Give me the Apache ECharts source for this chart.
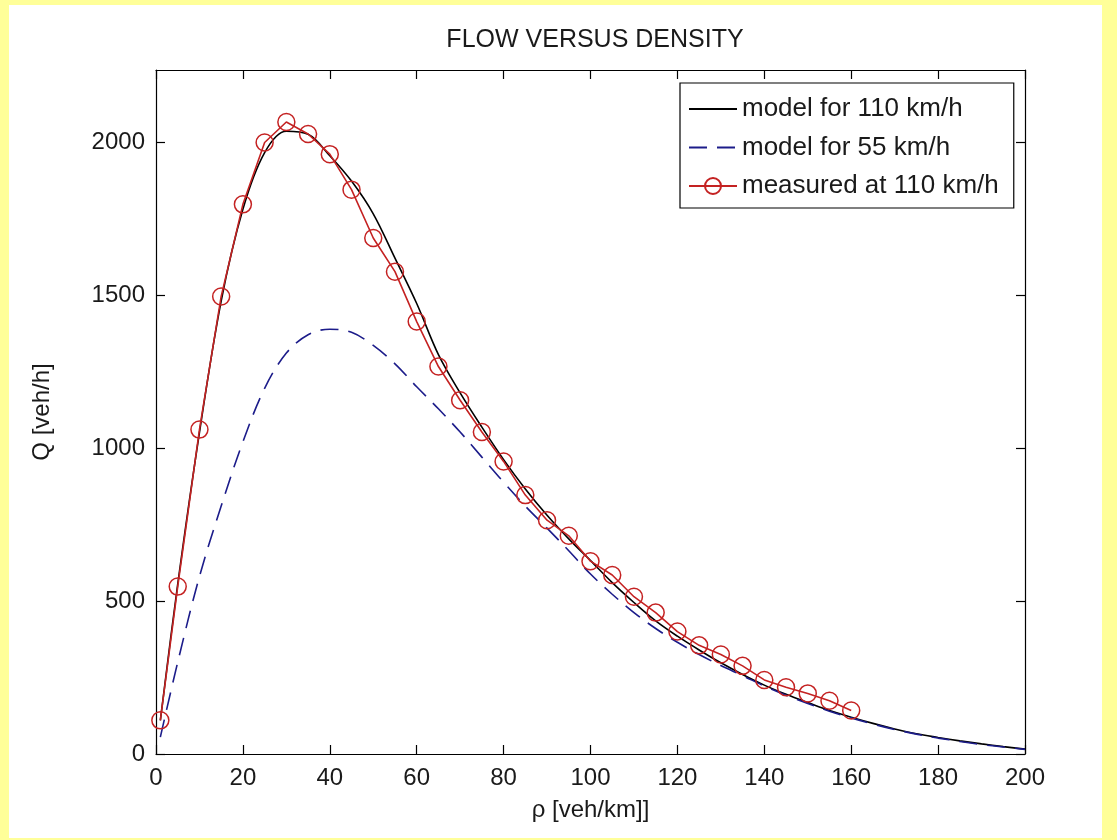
<!DOCTYPE html>
<html>
<head>
<meta charset="utf-8">
<script src="https://cdn.jsdelivr.net/npm/echarts@6/dist/echarts.min.js"></script>
<style>
html,body{margin:0;padding:0;background:#ffff99;}
#frame{position:absolute;left:9px;top:5px;width:1093px;height:833px;background:#fff;}
#chart{position:absolute;left:0;top:0;width:1117px;height:840px;}
</style>
</head>
<body>
<div id="frame"></div>
<div id="chart"></div>
<script>
// ---- data ----
const seriesNames = ['model for 110 km/h', 'model for 55 km/h', 'measured at 110 km/h'];
const rhoModel = [1,5,10,15,20,25,30,35,40,45,50,55,60,65,70,75,80,85,90,95,100,105,110,115,120,125,130,135,140,145,150,155,160,165,170,175,180,185,190,195,200];
const q110 = [110,555,1050,1480,1780,1965,2035,2025,1955,1872,1765,1620,1472,1305,1180,1068,962,866,780,703,632,560,495,435,385,340,298,260,225,195,168,142,120,100,82,66,54,43,33,24,16];
const q55 = [55,300,580,810,1020,1195,1310,1370,1388,1378,1335,1275,1200,1128,1052,970,888,810,738,664,588,522,462,410,365,325,289,256,222,192,165,140,118,98,80,65,52,41,31,23,15];
const rhoMeasured = [1,5,10,15,20,25,30,35,40,45,50,55,60,65,70,75,80,85,90,95,100,105,110,115,120,125,130,135,140,145,150,155,160];
const qMeasured = [110,547,1060,1495,1796,1998,2065,2026,1960,1844,1686,1576,1413,1266,1156,1052,956,846,764,713,630,585,514,462,400,355,325,288,242,218,198,174,142];
const xTickValues = [0,20,40,60,80,100,120,140,160,180,200];
const yTickValues = [0,500,1000,1500,2000];
const xRange = [0, 200];
const yRange = [0, 2235];

const pairs = (xs, ys) => xs.map((x, i) => [x, ys[i]]);

const chart = echarts.init(document.getElementById('chart'), null, {renderer: 'canvas'});
const FONT = 'Liberation Sans';
const TXT = '#1a1a1a';
const RED = '#c42222';

function axis(extra, ticks, range) {
  return Object.assign({
    type: 'value', min: range[0], max: range[1],
    axisLine: {show: true, onZero: false, lineStyle: {color: '#000', width: 1.2}},
    axisTick: {show: true, inside: true, length: 9, customValues: ticks, lineStyle: {color: '#000', width: 1.2}},
    splitLine: {show: false}
  }, extra);
}

chart.setOption({
  backgroundColor: 'transparent',
  animation: false,
  title: {
    text: 'FLOW VERSUS DENSITY',
    left: 590, top: 23, textAlign: 'center',
    textStyle: {fontFamily: FONT, fontSize: 25, fontWeight: 'normal', color: TXT}
  },
  grid: {left: 156, right: 92, top: 70, bottom: 86, containLabel: false},
  legend: {
    data: [
      {name: seriesNames[0], itemStyle: {opacity: 0}},
      {name: seriesNames[1], itemStyle: {opacity: 0}},
      {name: seriesNames[2]}
    ],
    orient: 'vertical',
    left: 680, top: 83,
    padding: [13, 15, 9, 8],
    itemWidth: 48, itemHeight: 20, itemGap: 12.5,
    backgroundColor: '#fff',
    borderColor: '#000', borderWidth: 1.2,
    textStyle: {fontFamily: FONT, fontSize: 26, color: TXT, lineHeight: 22}
  },
  xAxis: [
    axis({
      position: 'bottom',
      name: 'ρ [veh/km]]', nameLocation: 'middle', nameGap: 44,
      nameTextStyle: {fontFamily: FONT, fontSize: 24, color: TXT},
      axisLabel: {fontFamily: FONT, fontSize: 24, color: TXT, margin: 12, customValues: xTickValues, formatter: v => String(v)}
    }, xTickValues, xRange),
    axis({position: 'top', axisLabel: {show: false}}, xTickValues, xRange)
  ],
  yAxis: [
    axis({
      position: 'left',
      name: 'Q [veh/h]', nameLocation: 'middle', nameGap: 102, nameRotate: 90,
      nameTextStyle: {fontFamily: FONT, fontSize: 24, color: TXT},
      axisLabel: {fontFamily: FONT, fontSize: 24, color: TXT, margin: 11, customValues: yTickValues, formatter: v => String(v)}
    }, yTickValues, yRange),
    axis({position: 'right', axisLabel: {show: false}}, yTickValues, yRange)
  ],
  series: [
    {
      name: seriesNames[0], type: 'line', xAxisIndex: 0, yAxisIndex: 0,
      data: pairs(rhoModel, q110), smooth: 0.35, symbol: 'none',
      lineStyle: {color: '#000', width: 1.6}, itemStyle: {color: '#000'}, z: 2
    },
    {
      name: seriesNames[1], type: 'line', xAxisIndex: 0, yAxisIndex: 0,
      data: pairs(rhoModel, q55), smooth: 0.35, symbol: 'none',
      lineStyle: {color: '#1c1c8a', width: 1.6, type: [18, 10]}, itemStyle: {color: '#1c1c8a'}, z: 3
    },
    {
      name: seriesNames[2], type: 'line', xAxisIndex: 0, yAxisIndex: 0,
      data: pairs(rhoMeasured, qMeasured), symbol: 'circle', symbolSize: 17, showSymbol: true,
      lineStyle: {color: RED, width: 1.6},
      itemStyle: {color: 'rgba(255,255,255,0)', borderColor: RED, borderWidth: 1.5}, z: 4
    }
  ]
});
</script>
</body>
</html>
